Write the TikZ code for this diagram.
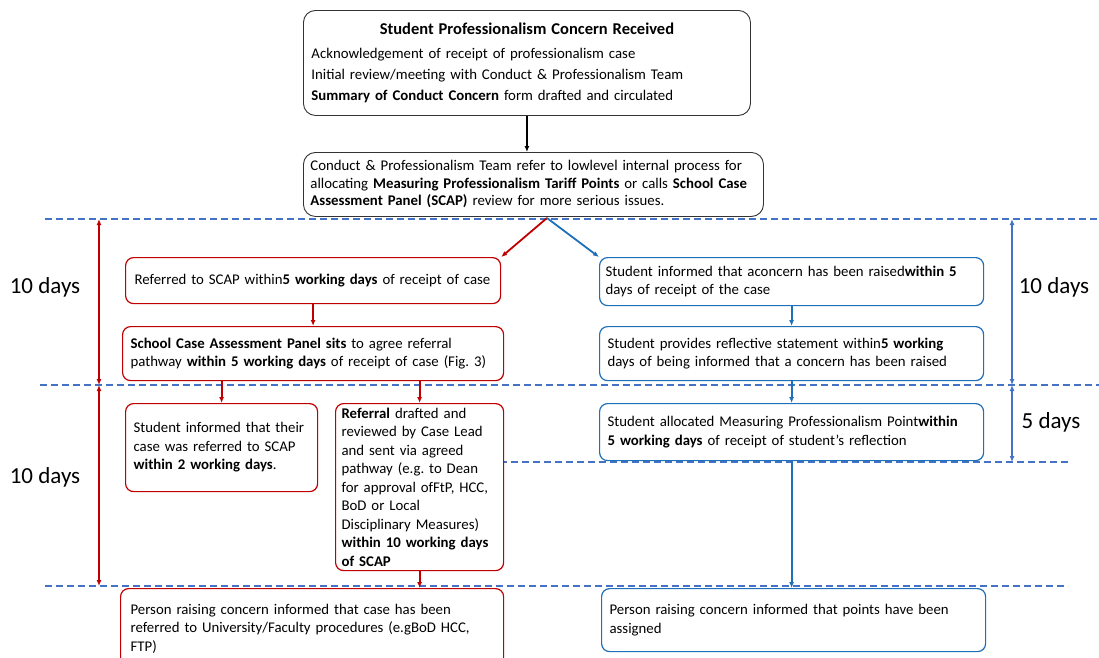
\documentclass[tikz,border=0pt]{standalone}
\usepackage{fontspec}
\setmainfont{Carlito}
\usetikzlibrary{arrows.meta}
\definecolor{scapred}{HTML}{C00000}
\definecolor{mpblue}{HTML}{1F70B8}
\definecolor{lineblue}{HTML}{4472C4}

\begin{document}
\begin{tikzpicture}
  [x=1pt,y=-1pt,
   every node/.style={font=\fontsize{14.8}{18.5}\selectfont\frenchspacing},
   box/.style={draw,fill=white,rounded corners=8pt,line width=1.2pt,anchor=north west,
     align=left,inner xsep=10pt,inner ysep=0pt},
   redbox/.style={box,draw=scapred},
   bluebox/.style={box,draw=mpblue},
   redline/.style={draw=scapred,line width=1.8pt,-{Latex[length=6pt,width=5pt]}},
   blueline/.style={draw=mpblue,line width=1.8pt,-{Latex[length=6pt,width=5pt]}},
   timeline/.style={draw=lineblue,line width=1.8pt,dash pattern=on 7pt off 4pt},
   span/.style={line width=1.6pt,{Latex[length=6pt,width=5pt]}-{Latex[length=6pt,width=5pt]}},
   days/.style={font=\fontsize{23}{27}\selectfont}]
  \clip (0,0) rectangle (1099,657);
  % time bands
  \draw[timeline] (45,219) -- (1099,219);
  \draw[timeline] (40,385) -- (1099,385);
  \draw[timeline] (500,462) -- (1068,462);
  \draw[timeline] (45,586) -- (1068,586);
  \draw[span,scapred] (99,219) -- (99,385);
  \draw[span,scapred] (99,385) -- (99,586);
  \draw[span,lineblue] (1012,219) -- (1012,385);
  \draw[span,lineblue] (1012,385) -- (1012,462);
  \node[days] (d1) at (45,287) {10 days};
  \node[days] (d2) at (45,477) {10 days};
  \node[days] (d3) at (1054,287) {10 days};
  \node[days] (d4) at (1051,422) {5 days};

  \node[box,draw=black!80,rounded corners=12pt,line width=0.9pt,minimum width=447,minimum height=105,
    text width=431,inner xsep=8pt,font=\fontsize{14.8}{21}\selectfont] (recv) at (303,10)
    {\centering{\fontsize{16.5}{21}\selectfont\textbf{Student Professionalism Concern Received}}\par
     \vspace{3pt}\raggedright
     Acknowledgement of receipt of professionalism case\\
     Initial review/meeting with Conduct \& Professionalism Team\\
     \textbf{Summary of Conduct Concern} form drafted and circulated};
  \node[box,draw=black!80,rounded corners=12pt,line width=0.9pt,minimum width=460,minimum height=64,
    text width=446,inner xsep=7pt,font=\fontsize{14.8}{17.5}\selectfont] (review) at (303,152)
    {Conduct \& Professionalism Team refer to lowlevel internal process for\\
     allocating \textbf{Measuring Professionalism Tariff Points} or calls \textbf{School Case}\\
     \textbf{Assessment Panel (SCAP)} review for more serious issues.};

  % SCAP route
  \node[redbox,minimum width=375,minimum height=46,text width=367,inner xsep=4pt] (r1) at (125,257)
    {\hspace*{5pt}Referred to SCAP within\textbf{5 working days} of receipt of case};
  \node[redbox,minimum width=381,minimum height=54,text width=365,inner xsep=8pt] (r2) at (122,326)
    {\textbf{School Case Assessment Panel sits} to agree referral\\
     pathway \textbf{within 5 working days} of receipt of case (Fig. 3)};
  \node[redbox,minimum width=192,minimum height=88,text width=176,inner xsep=8pt] (r3) at (125,403)
    {Student informed that their\\ case was referred to SCAP\\ \textbf{within 2 working days}.};
  \node[redbox,minimum width=168,minimum height=167,text width=156,inner xsep=6pt] (r4) at (335,403)
    {\textbf{Referral} drafted and\\ reviewed by Case Lead\\ and sent via agreed\\
     pathway (e.g. to Dean\\ for approval ofFtP, HCC,\\ BoD or Local\\
     Disciplinary Measures)\\ \textbf{within 10 working days}\\ \textbf{of SCAP}};
  \node[redbox,minimum width=383,minimum height=80,text width=363] (r5) at (120,588)
    {Person raising concern informed that case has been\\
     referred to University/Faculty procedures (e.gBoD HCC,\\ FTP)};

  % points route
  \node[bluebox,minimum width=384,minimum height=48,text width=372,inner xsep=6pt] (b1) at (599,257)
    {Student informed that aconcern has been raised\textbf{within 5}\\ days of receipt of the case};
  \node[bluebox,minimum width=384,minimum height=54,text width=368,inner xsep=8pt] (b2) at (599,326)
    {Student provides reflective statement within\textbf{5 working}\\
     days of being informed that a concern has been raised};
  \node[bluebox,minimum width=384,minimum height=57,text width=368,inner xsep=8pt] (b3) at (599,403)
    {Student allocated Measuring Professionalism Point\textbf{within}\\
     \textbf{5 working days} of receipt of student's reflection};
  \node[bluebox,minimum width=384,minimum height=63,text width=368,inner xsep=8pt] (b4) at (601,588)
    {Person raising concern informed that points have been\\ assigned};

  \coordinate (fork) at (547,218);
  \draw[line width=1.8pt,-{Latex[length=6pt,width=5pt]}] (recv.south) -- (recv.south |- review.north);
  \draw[redline] (fork) -- (r1.north east);
  \draw[blueline] (fork) -- (b1.north west);
  \foreach \from/\to in {r1/r2,r2/r3,r2/r4}
    \draw[redline] (\to.north |- \from.south) -- (\to.north);
  \draw[redline] (r4.south) -- (r4.south |- r5.north);
  \foreach \from/\to in {b1/b2,b2/b3,b3/b4}
    \draw[blueline] (\from.south) -- (\from.south |- \to.north);
\end{tikzpicture}
\end{document}
